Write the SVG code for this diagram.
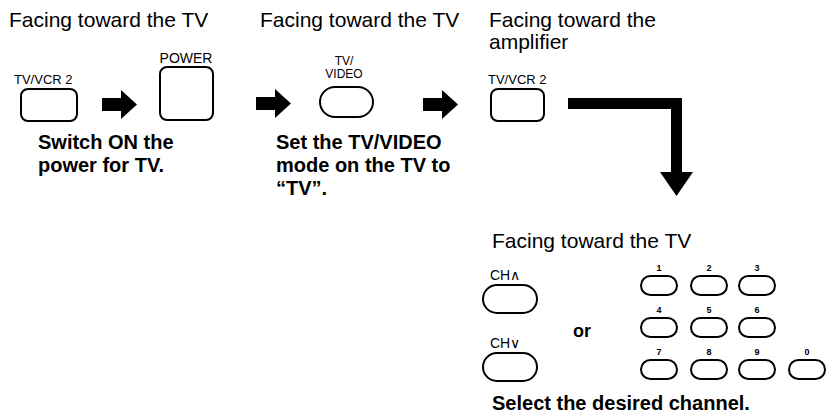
<svg xmlns="http://www.w3.org/2000/svg" width="833" height="417" viewBox="0 0 833 417">
<defs>
<style>
.t{font-family:"Liberation Sans",Arial,sans-serif;font-size:21px;fill:#000}
.c{font-family:"Liberation Sans",Arial,sans-serif;font-size:20px;font-weight:bold;fill:#000}
.l{font-family:"Liberation Sans",Arial,sans-serif;font-size:13px;fill:#000}
.n{font-family:"Liberation Sans",Arial,sans-serif;font-size:9px;font-weight:bold;fill:#000;text-anchor:middle}
.b{fill:#fff;stroke:#000;stroke-width:2}
.a{fill:#000}
</style>
</defs>
<rect width="833" height="417" fill="#fff"/>
<text class="t" x="9" y="27">Facing toward the TV</text>
<text class="t" x="260" y="27">Facing toward the TV</text>
<text class="t" x="489" y="27">Facing toward the</text>
<text class="t" x="489" y="49">amplifier</text>
<g id="tvvcr2-a">
<text class="l" x="14" y="84">TV/VCR 2</text>
<rect class="b" x="21" y="89" width="56" height="32" rx="7"/>
</g>
<g id="power">
<text class="l" x="186" y="63" text-anchor="middle" style="font-size:14px">POWER</text>
<rect class="b" x="160" y="67" width="53" height="53" rx="7"/>
</g>
<g id="step1-caption">
<text class="c" x="38" y="149">Switch ON the</text>
<text class="c" x="38" y="172">power for TV.</text>
</g>
<g id="tvvideo">
<text class="l" x="344" y="65" text-anchor="middle" style="font-size:12px">TV/</text>
<text class="l" x="344" y="78" text-anchor="middle" style="font-size:12px">VIDEO</text>
<rect class="b" x="320" y="87" width="53" height="30" rx="15"/>
</g>
<g id="step2-caption">
<text class="c" x="276" y="149">Set the TV/VIDEO</text>
<text class="c" x="276" y="172">mode on the TV to</text>
<text class="c" x="276" y="195">“TV”.</text>
</g>
<g id="tvvcr2-b">
<text class="l" x="488" y="84">TV/VCR 2</text>
<rect class="b" x="491" y="89" width="53" height="32" rx="7"/>
</g>
<g id="ch-buttons">
<text class="t" x="492" y="248">Facing toward the TV</text>
<text class="l" x="490" y="280" style="font-size:14px">CH∧</text>
<rect class="b" x="483" y="285" width="54" height="28" rx="14"/>
<text class="c" x="573" y="337" style="font-size:18px">or</text>
<text class="l" x="490" y="348" style="font-size:14px">CH∨</text>
<rect class="b" x="483" y="353" width="54" height="28" rx="14"/>
</g>
<g id="numpad">
<text class="n" x="659" y="271">1</text>
<text class="n" x="709" y="271">2</text>
<text class="n" x="757" y="271">3</text>
<rect class="b" x="641" y="276" width="36" height="19" rx="9.5"/>
<rect class="b" x="691" y="276" width="36" height="19" rx="9.5"/>
<rect class="b" x="739" y="276" width="36" height="19" rx="9.5"/>
<text class="n" x="659" y="313">4</text>
<text class="n" x="709" y="313">5</text>
<text class="n" x="757" y="313">6</text>
<rect class="b" x="641" y="318" width="36" height="19" rx="9.5"/>
<rect class="b" x="691" y="318" width="36" height="19" rx="9.5"/>
<rect class="b" x="739" y="318" width="36" height="19" rx="9.5"/>
<text class="n" x="659" y="355">7</text>
<text class="n" x="709" y="355">8</text>
<text class="n" x="757" y="355">9</text>
<text class="n" x="807" y="355">0</text>
<rect class="b" x="641" y="360" width="36" height="19" rx="9.5"/>
<rect class="b" x="691" y="360" width="36" height="19" rx="9.5"/>
<rect class="b" x="739" y="360" width="36" height="19" rx="9.5"/>
<rect class="b" x="789" y="360" width="36" height="19" rx="9.5"/>
<text class="c" x="492" y="410">Select the desired channel.</text>
</g>
<g id="connectors">
<polygon class="a" points="102,98 121,98 121,90 137,104.5 121,119 121,111 102,111"/>
<polygon class="a" points="256,97 275,97 275,89 291,103.5 275,118 275,110 256,110"/>
<polygon class="a" points="423,98 442,98 442,90 458,104.5 442,119 442,111 423,111"/>
<polygon class="a" points="568,98 682,98 682,172 693,172 676.5,196 660,172 671,172 671,109 568,109"/>
</g>
</svg>
